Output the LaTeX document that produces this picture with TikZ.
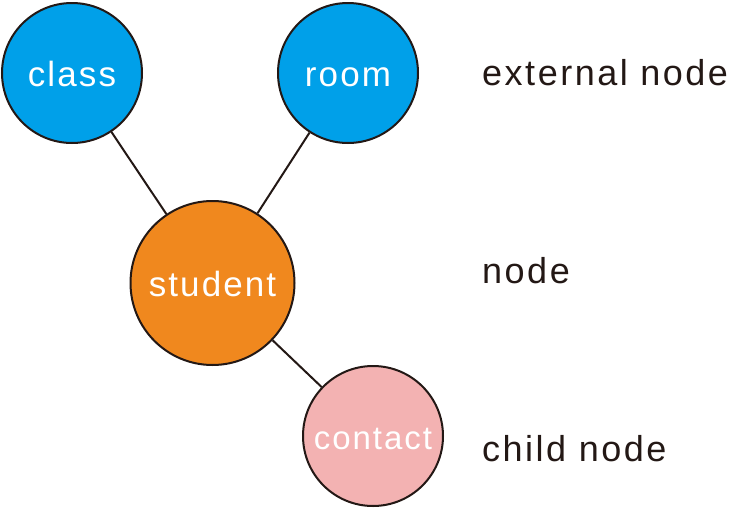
\documentclass[tikz,border=0pt]{standalone}
\usepackage{fontspec}
\setmainfont{Liberation Sans}[LetterSpace=6]
\newfontfamily\legendfont{Liberation Sans}[LetterSpace=7]
\definecolor{cblue}{RGB}{0,160,233}
\definecolor{corange}{RGB}{240,136,30}
\definecolor{cpink}{RGB}{243,178,178}
\definecolor{cdark}{RGB}{35,24,21}
\tikzset{
  ball/.style={circle, draw=cdark, line width=2pt, inner sep=0pt, text=white,
    font=\fontsize{35}{40}\selectfont, text height=26pt, text depth=0pt},
  legend/.style={anchor=base west, inner sep=0pt, text=cdark, font=\legendfont\fontsize{36}{40}\selectfont},
  conn/.style={draw=cdark, line width=2pt}
}
\begin{document}
\begin{tikzpicture}[x=1pt,y=-1pt]
\useasboundingbox (0,0) rectangle (729,509);
\node[ball, fill=cblue, minimum size=140pt] (class) at (72,73) {class};
\node[ball, fill=cblue, minimum size=140pt] (room) at (348,73) {room};
\node[ball, fill=corange, minimum size=164pt] (student) at (212.5,283) {student};
\node[ball, fill=cpink, minimum size=140pt, font=\fontsize{33}{38}\selectfont] (contact) at (373,436) {contact};
\draw[conn] (class) -- (student);
\draw[conn] (room) -- (student);
\draw[conn] (student) -- (contact);
\node[legend] (l1) at (482,85) {external node};
\node[legend] (l2) at (482,283) {node};
\node[legend] (l3) at (482,461) {child node};
\end{tikzpicture}
\end{document}
